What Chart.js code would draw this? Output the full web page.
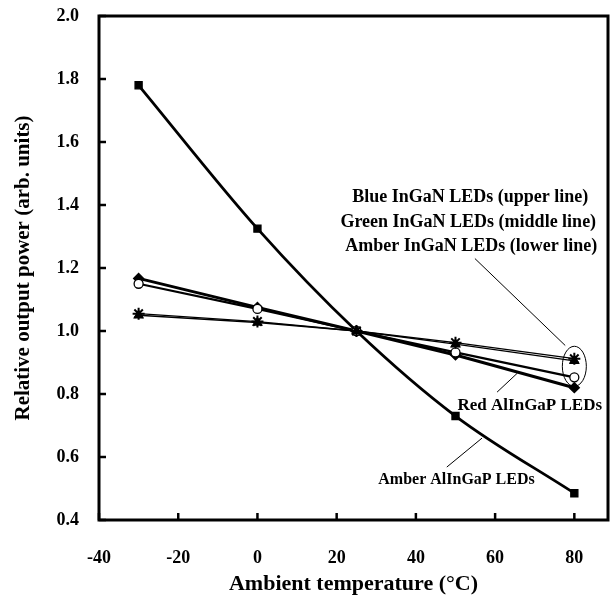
<!DOCTYPE html>
<html>
<head>
<meta charset="utf-8">
<script src="https://cdn.jsdelivr.net/npm/chart.js@4"></script>
<style>
  html, body { margin: 0; padding: 0; background: #fff; }
  #wrap { width: 616px; height: 598px; }
</style>
</head>
<body>
<div id="wrap"><canvas id="myChart" width="616" height="598"></canvas></div>
<script>
// temperatures (deg C)
var temps = [-30, 0, 25, 50, 80]

// relative output power
var amberAlInGaP = [1.78, 1.325, 1.0, 0.73, 0.485]
var redAlInGaP = [1.167, 1.075, 1.0, 0.924, 0.82]
var amberInGaN = [1.15, 1.07, 1.0, 0.932, 0.853]
var greenInGaN = [1.05, 1.027, 1.0, 0.958, 0.905]
var blueInGaN = [1.055, 1.03, 1.0, 0.963, 0.912]

var xTicks = [-40, -20, 0, 20, 40, 60, 80]

const FONT = "'Liberation Serif', 'Times New Roman', serif"

function pts(vals) {
  return temps.map((t, i) => ({x: t, y: vals[i]}))
}

function series(label, vals, style, radius, width, fill, smooth) {
  return {
    label: label,
    data: pts(vals),
    borderColor: '#000',
    borderWidth: width,
    pointStyle: style,
    pointRadius: radius,
    pointBorderWidth: style == 'star' ? 2 : 1.3,
    pointBackgroundColor: fill,
    pointBorderColor: '#000',
    tension: 0,
    cubicInterpolationMode: smooth ? 'monotone' : 'default',
    fill: false
  }
}

var datasets = [
  series('Blue InGaN LEDs', blueInGaN, 'star', 6, 1.3, '#000', false),
  series('Green InGaN LEDs', greenInGaN, 'triangle', 5, 1.3, '#000', false),
  series('Amber InGaN LEDs', amberInGaN, 'circle', 4.5, 2.2, '#fff', false),
  series('Red AlInGaP LEDs', redAlInGaP, 'rectRot', 5, 3, '#000', false),
  series('Amber AlInGaP LEDs', amberAlInGaP, 'rect', 5, 2.8, '#000', true)
]

// frame, inward tick marks and the callout labels
const decor = {
  id: 'decor',
  afterDatasetsDraw(chart) {
    const ctx = chart.ctx
    const a = chart.chartArea
    const xs = chart.scales.x
    const ys = chart.scales.y
    ctx.save()
    ctx.strokeStyle = '#000'
    ctx.lineWidth = 3
    ctx.strokeRect(a.left, a.top, a.right - a.left, a.bottom - a.top)

    ctx.lineWidth = 2.5
    ys.ticks.forEach((t) => {
      const py = ys.getPixelForValue(t.value)
      ctx.beginPath(); ctx.moveTo(a.left, py); ctx.lineTo(a.left + 7, py); ctx.stroke()
    })
    xs.ticks.forEach((t) => {
      const px = xs.getPixelForValue(t.value)
      ctx.beginPath(); ctx.moveTo(px, a.bottom); ctx.lineTo(px, a.bottom - 7); ctx.stroke()
    })

    // leader lines
    function lead(x1, y1, x2, y2) {
      ctx.beginPath()
      ctx.moveTo(xs.getPixelForValue(x1), ys.getPixelForValue(y1))
      ctx.lineTo(xs.getPixelForValue(x2), ys.getPixelForValue(y2))
      ctx.stroke()
    }
    ctx.lineWidth = 1
    lead(54.9, 1.23, 77.7, 0.954)
    lead(60.5, 0.806, 65.6, 0.866)
    lead(47.8, 0.568, 56.7, 0.66)

    // ellipse round the InGaN end points
    ctx.beginPath()
    ctx.ellipse(xs.getPixelForValue(80), ys.getPixelForValue(0.888), 12, 20, 0, 0, Math.PI * 2)
    ctx.stroke()

    ctx.fillStyle = '#000'
    ctx.font = 'bold 18px ' + FONT
    ctx.textAlign = 'right'
    ctx.textBaseline = 'middle'
    function txt(s, x, y) {
      ctx.fillText(s, xs.getPixelForValue(x), ys.getPixelForValue(y))
    }
    txt('Blue InGaN LEDs (upper line)', 83.5, 1.423)
    txt('Green InGaN LEDs (middle line)', 85.5, 1.344)
    txt('Amber InGaN LEDs (lower line)', 85.8, 1.268)
    ctx.font = 'bold 17px ' + FONT
    txt('Red AlInGaP LEDs', 87, 0.764)
    ctx.font = 'bold 16px ' + FONT
    txt('Amber AlInGaP LEDs', 70, 0.527)
    ctx.restore()
  }
}

var ctx = document.getElementById('myChart')
var chart = new Chart(ctx, {
  type: 'line',
  data: { datasets: datasets },
  options: {
    responsive: false,
    animation: false,
    layout: { padding: { top: 16, right: 0, left: 8, bottom: 0 } },
    plugins: {
      legend: { display: false },
      tooltip: { enabled: false }
    },
    scales: {
      x: {
        type: 'linear',
        min: -40,
        max: 88.5,
        afterBuildTicks: (s) => { s.ticks = xTicks.map((v) => ({value: v})) },
        afterFit: (s) => { s.height = 78; s.paddingLeft = 0; s.paddingRight = 0 },
        grid: { display: false, drawTicks: false },
        border: { display: false },
        ticks: {
          color: '#000',
          padding: 28,
          font: { family: FONT, size: 18, weight: 'bold' }
        },
        title: {
          display: true,
          text: 'Ambient temperature (°C)',
          color: '#000',
          padding: { top: 5, bottom: 0 },
          font: { family: FONT, size: 22, weight: 'bold' }
        }
      },
      y: {
        min: 0.4,
        max: 2.0,
        afterFit: (s) => { s.width = 91; s.paddingTop = 0; s.paddingBottom = 0 },
        grid: { display: false, drawTicks: false },
        border: { display: false },
        ticks: {
          stepSize: 0.2,
          color: '#000',
          padding: 20,
          font: { family: FONT, size: 18, weight: 'bold' },
          callback: (v) => v.toFixed(1)
        },
        title: {
          display: true,
          text: 'Relative output power (arb. units)',
          color: '#000',
          padding: { top: 3, bottom: 0 },
          font: { family: FONT, size: 21, weight: 'bold' }
        }
      }
    }
  },
  plugins: [decor]
})
</script>
</body>
</html>
